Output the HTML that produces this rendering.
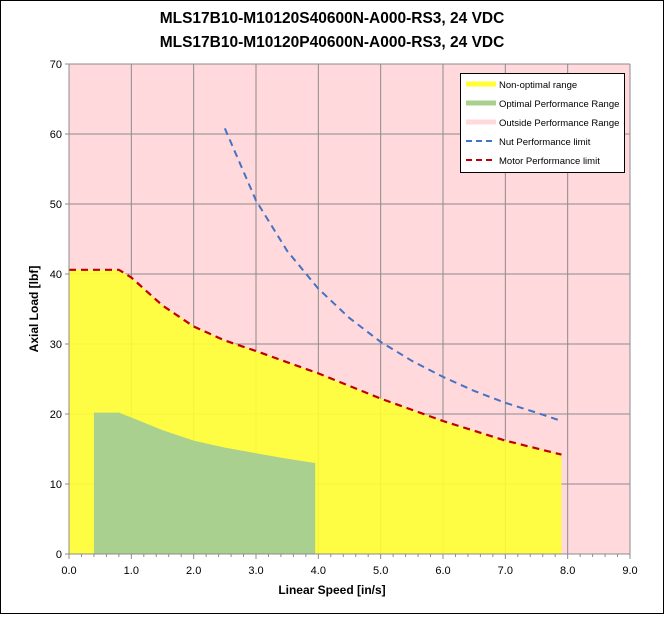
<!DOCTYPE html>
<html><head><meta charset="utf-8"><style>
body{margin:0;background:#fff;font-family:"Liberation Sans",sans-serif}
svg text{font-family:"Liberation Sans",sans-serif}
</style></head><body>
<svg width="665" height="615" xmlns="http://www.w3.org/2000/svg">
<rect x="0.5" y="0.5" width="663" height="613" fill="#fff" stroke="#000"/>
<text x="332" y="23" text-anchor="middle" font-size="15.5" font-weight="bold">MLS17B10-M10120S40600N-A000-RS3, 24 VDC</text>
<text x="332" y="47" text-anchor="middle" font-size="15.5" font-weight="bold">MLS17B10-M10120P40600N-A000-RS3, 24 VDC</text>
<g id="plot"></g>
<text x="332" y="594" text-anchor="middle" font-size="12" font-weight="bold">Linear Speed [in/s]</text>
<text transform="translate(38,309) rotate(-90)" text-anchor="middle" font-size="12" font-weight="bold">Axial Load [lbf]</text>
<g>
<rect x="460.5" y="73.5" width="164" height="99" fill="#fff" stroke="#000"/>
<line x1="466" y1="84" x2="496" y2="84" stroke="#ffff33" stroke-width="5"/>
<text x="499" y="88" font-size="9.5">Non-optimal range</text>
<line x1="466" y1="103" x2="496" y2="103" stroke="#a9d08e" stroke-width="5"/>
<text x="499" y="107" font-size="9.5">Optimal Performance Range</text>
<line x1="466" y1="122" x2="496" y2="122" stroke="#ffd9dc" stroke-width="5"/>
<text x="499" y="126" font-size="9.5">Outside Performance Range</text>
<line x1="466" y1="141" x2="496" y2="141" stroke="#4472c4" stroke-width="2" stroke-dasharray="6,4"/>
<text x="499" y="145" font-size="9.5">Nut Performance limit</text>
<line x1="466" y1="160" x2="496" y2="160" stroke="#c00000" stroke-width="2" stroke-dasharray="6,4"/>
<text x="499" y="164" font-size="9.5">Motor Performance limit</text>
</g>
</svg>
<script>
const xTicks=[0,1,2,3,4,5,6,7,8,9];
const yTicks=[0,10,20,30,40,50,60,70];
const motorX=[0,0.8,1,1.5,2,2.5,3,4,5,6,7,7.9];
const motorY=[40.6,40.6,39.5,35.5,32.5,30.5,29,25.8,22.2,19,16.2,14.2];
const optX=[0.4,0.8,1,1.5,2,2.5,3,3.5,3.95];
const optY=[20.2,20.2,19.5,17.7,16.2,15.2,14.4,13.6,13];
const nutX=[2.5,3,3.5,4,4.5,5,5.5,6,6.5,7,7.5,7.9];
const nutY=[60.8,50.5,43.3,37.9,33.7,30.3,27.6,25.3,23.3,21.6,20.2,19];
const X0=69,X1=630,Y0=554,Y1=64;
const sx=v=>X0+(v-0)/(9-0)*(X1-X0);
const sy=v=>Y0-(v-0)/(70-0)*(Y0-Y1);
const NS="http://www.w3.org/2000/svg";
const g=document.getElementById('plot');
function mk(t,a){const e=document.createElementNS(NS,t);for(const k in a)e.setAttribute(k,a[k]);g.appendChild(e);return e;}
const bg=mk('rect',{x:X0,y:Y1,width:X1-X0,height:Y0-Y1,fill:'#ffd9dc'});


xTicks.forEach(v=>{const l=mk('line',{x1:sx(v),x2:sx(v),y1:Y1,y2:Y0,stroke:'#8c8c8c','stroke-width':1});

});
yTicks.forEach(v=>{const l=mk('line',{x1:X0,x2:X1,y1:sy(v),y2:sy(v),stroke:'#8c8c8c','stroke-width':1});

});
function area(xs,ys){let d='M'+sx(xs[0])+','+sy(0);xs.forEach((x,i)=>d+=' L'+sx(x)+','+sy(ys[i]));d+=' L'+sx(xs[xs.length-1])+','+sy(0)+' Z';return d;}
function line(xs,ys){return xs.map((x,i)=>(i?'L':'M')+sx(x)+','+sy(ys[i])).join(' ');}
const ya=mk('path',{d:area(motorX,motorY),fill:'#ffff33','fill-opacity':0.9});


const ga=mk('path',{d:area(optX,optY),fill:'#a9d08e'});


const ml=mk('path',{d:line(motorX,motorY),fill:'none',stroke:'#c00000','stroke-width':2.2,'stroke-dasharray':'7,5'});


const nl=mk('path',{d:line(nutX,nutY),fill:'none',stroke:'#4472c4','stroke-width':2,'stroke-dasharray':'7,5'});


mk('line',{x1:X0,x2:X1,y1:Y0,y2:Y0,stroke:'#8c8c8c'});
mk('line',{x1:X0,x2:X0,y1:Y1,y2:Y0,stroke:'#8c8c8c'});
for(let v=0;v<=9.001;v+=0.2){mk('line',{x1:sx(v),x2:sx(v),y1:Y0,y2:Y0+(Math.abs(v-Math.round(v))<0.01?5:3),stroke:'#8c8c8c'});}
yTicks.forEach(v=>{mk('line',{x1:X0-4,x2:X0,y1:sy(v),y2:sy(v),stroke:'#8c8c8c'});
const t=mk('text',{x:X0-7,y:sy(v)+4,'text-anchor':'end','font-size':11});t.textContent=v;

});
xTicks.forEach(v=>{const t=mk('text',{x:sx(v),y:Y0+20,'text-anchor':'middle','font-size':11});t.textContent=v.toFixed(1);

});
</script>
</body></html>
